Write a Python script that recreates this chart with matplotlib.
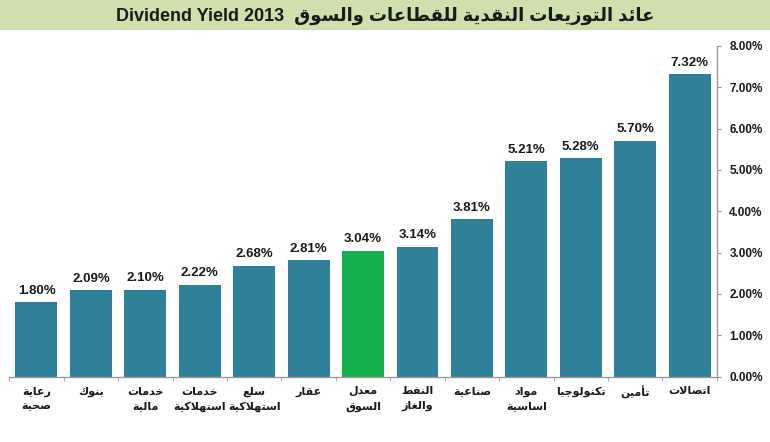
import matplotlib
matplotlib.use("Agg")
import matplotlib.pyplot as plt
from matplotlib.patches import Rectangle

# ---------------- data ----------------
categories = [
    "رعاية\nصحية", "بنوك", "خدمات\nمالية", "خدمات\nاستهلاكية", "سلع\nاستهلاكية",
    "عقار", "معدل\nالسوق", "النفط\nوالغاز", "صناعية", "مواد\nاساسية",
    "تكنولوجيا", "تأمين", "اتصالات",
]
values = [1.80, 2.09, 2.10, 2.22, 2.68, 2.81, 3.04, 3.14, 3.81, 5.21, 5.28, 5.70, 7.32]
highlight = "معدل\nالسوق"
yticks = [0, 1, 2, 3, 4, 5, 6, 7, 8]
title_ar = "عائد التوزيعات النقدية للقطاعات والسوق"
title_en = "Dividend Yield 2013"

# ---------------- minimal Arabic shaping ----------------
_AR = {}
_seq = [('ء', 1), ('آ', 2), ('أ', 2), ('ؤ', 2), ('إ', 2), ('ئ', 4), ('ا', 2), ('ب', 4),
        ('ة', 2), ('ت', 4), ('ث', 4), ('ج', 4), ('ح', 4), ('خ', 4), ('د', 2), ('ذ', 2),
        ('ر', 2), ('ز', 2), ('س', 4), ('ش', 4), ('ص', 4), ('ض', 4), ('ط', 4), ('ظ', 4),
        ('ع', 4), ('غ', 4), ('ف', 4), ('ق', 4), ('ك', 4), ('ل', 4), ('م', 4), ('ن', 4),
        ('ه', 4), ('و', 2), ('ى', 2), ('ي', 4)]
_c = 0xFE80
for _ch, _n in _seq:
    _AR[_ch] = [chr(_c + i) for i in range(_n)]
    _c += _n
_LA = {'آ': 0xFEF5, 'أ': 0xFEF7, 'إ': 0xFEF9, 'ا': 0xFEFB}


def shape_line(s):
    toks = []
    i = 0
    while i < len(s):
        ch = s[i]
        if ch == 'ل' and i + 1 < len(s) and s[i + 1] in _LA:
            b = _LA[s[i + 1]]
            toks.append([chr(b), chr(b + 1)])
            i += 2
            continue
        toks.append(_AR.get(ch, ch))
        i += 1
    out = []
    for k, t in enumerate(toks):
        if isinstance(t, str):
            out.append(t)
            continue
        prev = k > 0 and not isinstance(toks[k - 1], str) and len(toks[k - 1]) == 4
        nxt = (len(t) == 4 and k + 1 < len(toks) and not isinstance(toks[k + 1], str)
               and len(toks[k + 1]) >= 2)
        if len(t) == 4:
            if prev and nxt:
                out.append(t[3])
            elif prev:
                out.append(t[1])
            elif nxt:
                out.append(t[2])
            else:
                out.append(t[0])
        elif len(t) == 2:
            out.append(t[1] if prev else t[0])
        else:
            out.append(t[0])
    return "".join(out)[::-1]


def ar(s):
    return "\n".join(shape_line(l) for l in s.split("\n"))


# ---------------- plot ----------------
FAM = ["Liberation Sans", "DejaVu Sans"]
plt.rcParams["font.family"] = FAM

fig = plt.figure(figsize=(7.7, 4.42), dpi=100)
fig.patches.append(Rectangle((0, 0.933), 1, 0.067, transform=fig.transFigure,
                             facecolor="#cfdfae", edgecolor="none", zorder=0))
fig.text(0.5, 0.965, title_en + "  " + ar(title_ar), ha="center", va="center",
         fontsize=13, fontweight="bold", color="#1a1a1a", family=FAM)

ax = fig.add_axes([0.012, 0.148, 0.919, 0.748])
bar_color = "#2e8199"
hl_color = "#13b04b"
colors = [hl_color if c == highlight else bar_color for c in categories]
x = list(range(len(categories)))
bars = ax.bar(x, values, width=0.77, color=colors, zorder=2)
for b, v in zip(bars, values):
    ax.annotate(f"{v:.2f}%", (b.get_x() + b.get_width() / 2, v), xytext=(0, 4),
                textcoords="offset points", ha="center", va="bottom",
                fontsize=9.5, fontweight="bold", color="#1a1a1a")

ax.set_xlim(-0.5, len(categories) - 0.5)
ax.set_ylim(0, 8)
ax.yaxis.tick_right()
ax.set_yticks(yticks)
ax.set_yticklabels([f"{t:.2f}%" for t in yticks], fontsize=8.5, fontweight="bold",
                   color="#1a1a1a")
ax.tick_params(axis="y", direction="out", length=3, color="#999999", pad=6)

ax.set_xticks(x)
ax.set_xticklabels([ar(c) for c in categories], fontsize=8, fontweight="bold",
                   color="#1a1a1a", family=["DejaVu Sans"], linespacing=1.6)
ax.set_xticks([i - 0.5 for i in range(len(categories) + 1)], minor=True)
ax.tick_params(axis="x", which="major", length=0, pad=7)
ax.tick_params(axis="x", which="minor", direction="out", length=3, color="#999999")

for s in ["top", "left"]:
    ax.spines[s].set_visible(False)
for s in ["bottom", "right"]:
    ax.spines[s].set_color("#999999")
    ax.spines[s].set_linewidth(1.0)

fig.savefig("out.png", dpi=100)
